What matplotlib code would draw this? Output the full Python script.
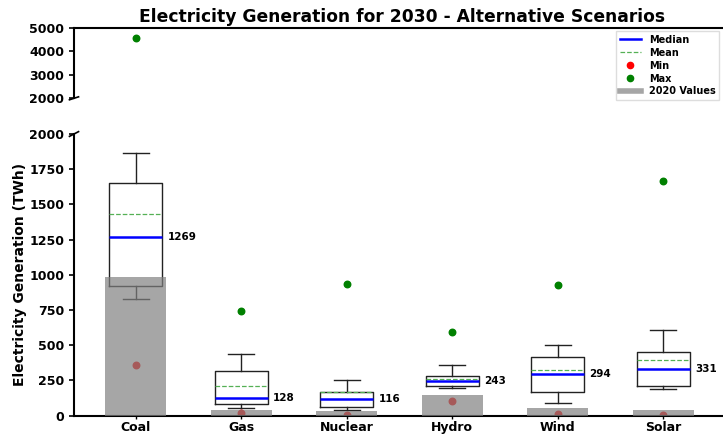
import matplotlib
matplotlib.use("Agg")
import matplotlib.pyplot as plt
from matplotlib.lines import Line2D

plt.rcParams['font.family'] = ['DejaVu Sans']
plt.rcParams['font.weight'] = 'bold'

categories = ["Coal", "Gas", "Nuclear", "Hydro", "Wind", "Solar"]
medians = [1269, 128, 116, 243, 294, 331]
means = [1430, 213, 166, 263, 322, 393]
q1 = [921, 81, 62, 209, 168, 213]
q3 = [1650, 317, 166, 280, 419, 450]
whisk_lo = [826, 52, 38, 197, 90, 187]
whisk_hi = [1867, 440, 251, 360, 500, 608]
mins = [360, 17, 5, 104, 14, 5]
maxs = [4586, 741, 935, 597, 926, 1666]
values_2020 = [987, 40, 36, 145, 52, 38]

W, H = 723, 436
fig = plt.figure(figsize=(W / 100, H / 100), dpi=100)
left = 74 / W
right = 0.999
ax_top = fig.add_axes([left, 1 - 98.3 / H, right - left, (98.3 - 28) / H])
ax_bot = fig.add_axes([left, 1 - 415.7 / H, right - left, (415.7 - 134) / H])

stats = []
for i, c in enumerate(categories):
    stats.append(dict(label=c, med=medians[i], mean=means[i], q1=q1[i], q3=q3[i],
                      whislo=whisk_lo[i], whishi=whisk_hi[i], fliers=[]))

pos = list(range(len(categories)))
for ax in (ax_top, ax_bot):
    ax.scatter(pos, mins, color='red', s=22, zorder=2)
    ax.scatter(pos, maxs, color='green', s=22, zorder=2)
    ax.bxp(stats, positions=pos, widths=0.5, showmeans=True, meanline=True,
           showfliers=False, patch_artist=False,
           boxprops=dict(color='#222222', lw=1.0),
           whiskerprops=dict(color='#222222', lw=1.0),
           capprops=dict(color='#222222', lw=1.0),
           medianprops=dict(color='blue', lw=1.8),
           meanprops=dict(color='#55b055', lw=0.9, ls='--'),
           manage_ticks=False)
    ax.bar(pos, values_2020, width=0.58, color='gray', alpha=0.7, zorder=3)
    ax.set_xlim(-0.585, 5.56)

for i, m in enumerate(medians):
    ax_bot.text(i + 0.3, m, f"{m}", fontsize=7.5, fontweight='bold',
                va='center', ha='left')

ax_top.set_ylim(2000, 5000)
ax_top.set_yticks([2000, 3000, 4000, 5000])
ax_top.set_xticks([])
ax_top.spines['bottom'].set_visible(False)
ax_top.spines['right'].set_visible(False)
for s in ('top', 'left'):
    ax_top.spines[s].set_linewidth(1.5)

ax_bot.set_ylim(0, 2000)
ax_bot.set_yticks([0, 250, 500, 750, 1000, 1250, 1500, 1750, 2000])
ax_bot.set_xticks(pos)
ax_bot.set_xticklabels(categories)
ax_bot.spines['top'].set_visible(False)
ax_bot.spines['right'].set_visible(False)
for s in ('bottom', 'left'):
    ax_bot.spines[s].set_linewidth(1.5)

for ax in (ax_top, ax_bot):
    ax.tick_params(axis='y', labelsize=9, width=1.2, length=3.5)
    ax.tick_params(axis='x', labelsize=9, width=1.0, length=2.5, pad=1.5)
    for lab in ax.get_yticklabels() + ax.get_xticklabels():
        lab.set_fontweight('bold')

# small diagonal break marks on the left spine
d = 0.007
kw = dict(color='k', clip_on=False, lw=1.2)
ax_top.plot((-d, d), (-d * 3, d * 3), transform=ax_top.transAxes, **kw)
ax_bot.plot((-d, d), (1 - d * 1.2, 1 + d * 1.2), transform=ax_bot.transAxes, **kw)

ax_bot.set_ylabel("Electricity Generation (TWh)", fontsize=10, fontweight='bold')
ax_bot.yaxis.set_label_coords(-0.0724, 0.5)

fig.text((left + right) / 2 + 0.005, 1 - 17 / H,
         "Electricity Generation for 2030 - Alternative Scenarios",
         ha='center', va='center', fontsize=12.3, fontweight='bold')

handles = [
    Line2D([], [], color='blue', lw=1.8),
    Line2D([], [], color='#55b055', lw=0.9, ls='--'),
    Line2D([], [], color='red', marker='o', ls='', markersize=4.5),
    Line2D([], [], color='green', marker='o', ls='', markersize=4.5),
    Line2D([], [], color='gray', alpha=0.7, lw=4),
]
labels = ["Median", "Mean", "Min", "Max", "2020 Values"]
ax_top.legend(handles, labels, loc='upper right', prop=dict(weight='bold', size=7),
              handlelength=2.2, labelspacing=0.3, borderaxespad=0.3, fancybox=False,
              framealpha=1, edgecolor='#dddddd')

fig.savefig("out.png", dpi=100)
